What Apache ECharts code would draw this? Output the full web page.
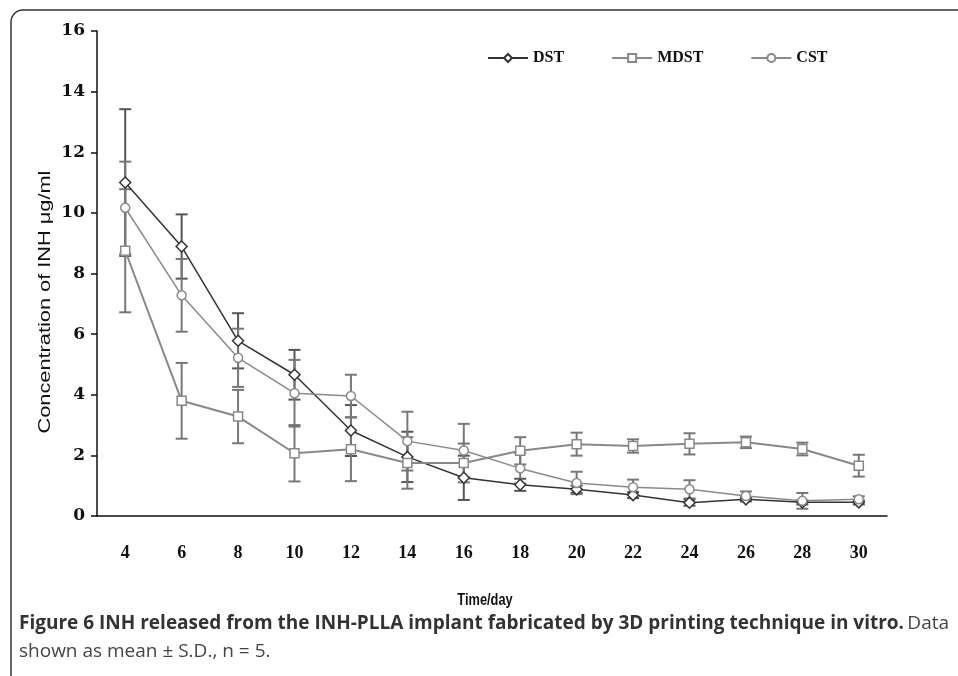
<!DOCTYPE html>
<html>
<head>
<meta charset="utf-8">
<script src="https://cdn.jsdelivr.net/npm/echarts@6/dist/echarts.min.js"></script>
<style>html,body{margin:0;padding:0;background:#fff}#c{width:958px;height:676px}</style>
</head>
<body>
<div id="c"></div>
<script>
const days = ['4','6','8','10','12','14','16','18','20','22','24','26','28','30'];
const dstMean  = [11.0, 8.89, 5.78, 4.66, 2.82, 1.95, 1.26, 1.03, 0.88, 0.69, 0.44, 0.55, 0.45, 0.45];
const dstSD    = [2.42, 1.06, 0.91, 0.82, 0.84, 0.83, 0.73, 0.20, 0.12, 0.10, 0.10, 0.07, 0.07, 0.07];
const mdstMean = [8.75, 3.80, 3.28, 2.07, 2.20, 1.75, 1.75, 2.15, 2.37, 2.31, 2.38, 2.43, 2.21, 1.66];
const mdstSD   = [2.03, 1.25, 0.88, 0.93, 1.05, 0.85, 0.64, 0.45, 0.38, 0.22, 0.35, 0.19, 0.21, 0.36];
const cstMean  = [10.17, 7.28, 5.22, 4.05, 3.96, 2.47, 2.16, 1.57, 1.09, 0.95, 0.88, 0.66, 0.50, 0.55];
const cstSD    = [1.52, 1.20, 0.96, 1.10, 0.70, 0.97, 0.88, 0.50, 0.37, 0.25, 0.30, 0.15, 0.26, 0.10];
const yTicks = [0, 2, 4, 6, 8, 10, 12, 14, 16];
const yTitle = 'Concentration of INH μg/ml';
const xTitle = 'Time/day';

const chart = echarts.init(document.getElementById('c'));

function errSeries(name, means, sds, color) {
  return {
    type: 'custom', name: name, silent: true, z: 1,
    encode: { x: 0, y: [1, 2] },
    data: means.map((m, i) => [i, m + sds[i], m - sds[i]]),
    renderItem: function (params, api) {
      const x = api.value(0);
      const pHi = api.coord([x, api.value(1)]);
      const pLo = api.coord([x, api.value(2)]);
      const w = 6;
      const st = { stroke: color, lineWidth: 2 };
      return {
        type: 'group',
        children: [
          { type: 'line', shape: { x1: pHi[0], y1: pHi[1], x2: pLo[0], y2: pLo[1] }, style: st },
          { type: 'line', shape: { x1: pHi[0] - w, y1: pHi[1], x2: pHi[0] + w, y2: pHi[1] }, style: st },
          { type: 'line', shape: { x1: pLo[0] - w, y1: pLo[1], x2: pLo[0] + w, y2: pLo[1] }, style: st }
        ]
      };
    }
  };
}

function lineSeries(name, data, symbol, size, color, lw) {
  return {
    type: 'line', name: name, data: data, symbol: symbol, symbolSize: size, z: 3,
    showAllSymbol: true,
    lineStyle: { color: color, width: lw },
    itemStyle: { color: '#fff', borderColor: color, borderWidth: 1.5 },
    emphasis: { disabled: true }
  };
}

const option = {
  animation: false,
  backgroundColor: '#fff',
  grid: { left: 97, right: 71, top: 31, bottom: 160 },
  legend: {
    data: ['DST', 'MDST', 'CST'],
    left: 482, top: 45,
    itemWidth: 40, itemHeight: 10, itemGap: 47,
    textStyle: { fontFamily: 'Liberation Serif', fontWeight: 'bold', fontSize: 16, color: '#111' }
  },
  xAxis: {
    type: 'category', data: days, boundaryGap: true,
    axisLine: { lineStyle: { color: '#111', width: 1.5 } },
    axisTick: { inside: true, length: 6, lineStyle: { color: '#111', width: 1.5 } },
    axisLabel: { margin: 28, fontFamily: 'Liberation Serif', fontWeight: 'bold', fontSize: 18, color: '#111' }
  },
  yAxis: {
    type: 'value', min: 0, max: 16, interval: 2,
    splitLine: { show: false },
    axisLine: { show: true, lineStyle: { color: '#111', width: 1.5 } },
    axisTick: { show: true, length: 6, lineStyle: { color: '#111', width: 1.5 } },
    axisLabel: { margin: 12, fontFamily: 'DejaVu Serif', fontWeight: 'bold', fontSize: 17, color: '#111',
      formatter: v => yTicks.includes(v) ? String(v) : '' }
  },
  series: [
    errSeries('eDST', dstMean, dstSD, '#555'),
    errSeries('eMDST', mdstMean, mdstSD, '#777'),
    errSeries('eCST', cstMean, cstSD, '#777'),
    lineSeries('DST', dstMean, 'diamond', 11, '#333', 1.5),
    lineSeries('MDST', mdstMean, 'rect', 9, '#888', 2),
    lineSeries('CST', cstMean, 'circle', 9, '#8a8a8a', 1.5)
  ],
  graphic: [
    { type: 'rect', silent: true, z: -1,
      shape: { x: 11, y: 10, width: 990, height: 720, r: 12 },
      style: { fill: 'none', stroke: '#333', lineWidth: 1.5 } },
    { type: 'text', silent: true, x: 46, y: 302, rotation: Math.PI / 2, scaleX: 1.36,
      style: { text: yTitle, fontFamily: 'Liberation Sans', fontSize: 16, fill: '#111', align: 'center', verticalAlign: 'middle' } },
    { type: 'text', silent: true, x: 485, y: 601, scaleX: 0.8,
      style: { text: xTitle, fontFamily: 'Liberation Sans', fontWeight: 'bold', fontSize: 16, fill: '#111', align: 'center', verticalAlign: 'middle' } },
    { type: 'text', silent: true, x: 19, y: 610,
      style: {
        text: '{b|Figure 6 INH released from the INH-PLLA implant fabricated by 3D printing technique in vitro.} {r|Data}\n{r|shown as mean ± S.D., n = 5.}',
        rich: {
          b: { fontFamily: 'Open Sans', fontWeight: 'bold', fontSize: 19, fill: '#333', lineHeight: 28 },
          r: { fontFamily: 'Open Sans', fontSize: 19, fill: '#444', lineHeight: 28 }
        }
      }
    }
  ]
};
chart.setOption(option);
</script>
</body>
</html>
